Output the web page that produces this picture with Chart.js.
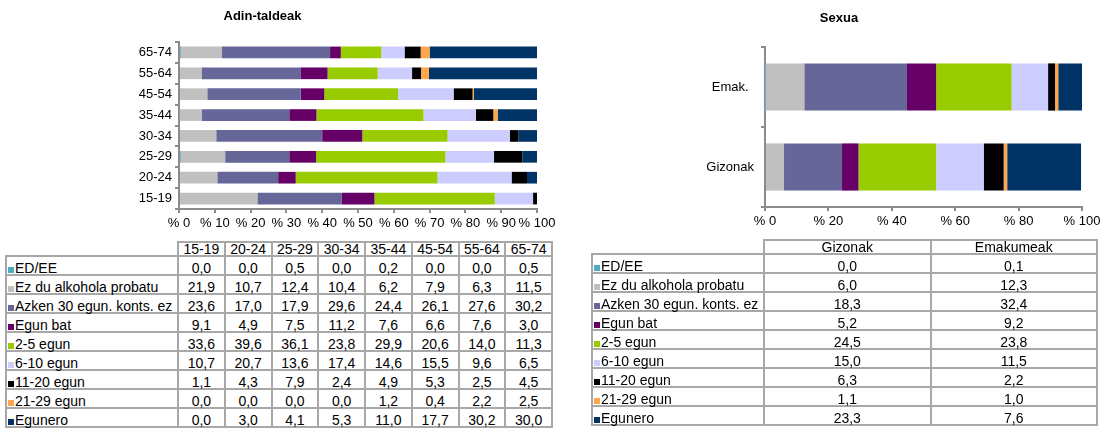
<!DOCTYPE html>
<html>
<head>
<meta charset="utf-8">
<script src="https://cdn.jsdelivr.net/npm/chart.js@4.4.0/dist/chart.umd.min.js"></script>
<style>
  body { margin: 0; background: #fff; width: 1110px; height: 430px; position: relative; overflow: hidden;
         font-family: "Liberation Sans", Arial, sans-serif; }
  canvas { position: absolute; }
  table { position: absolute; border-collapse: collapse; table-layout: fixed; font-size: 14px; color: #000; }
  td { border: 2px solid #a8a8a8; padding: 0; line-height: 12px; vertical-align: bottom; text-align: center;
       white-space: nowrap; overflow: visible; }
  td.lbl { text-align: left; }
  td.blank { border: none; }
  tr.head td { height: 10px; }
  tr.row td { height: 17px; }
  .key { display: inline-block; width: 6px; height: 6px; margin: 0 1px 0 1px; }
</style>
</head>
<body>
<canvas id="chartAdina" width="572" height="240" style="left:-12px;top:0"></canvas>
<canvas id="chartSexua" width="508" height="240" style="left:596px;top:0"></canvas>
<table id="taulaAdina" style="left:5px;top:241px"></table>
<table id="taulaSexua" style="left:591px;top:239px"></table>

<script>
// serieak
const series = ['ED/EE', 'Ez du alkohola probatu', 'Azken 30 egun. konts. ez', 'Egun bat', '2-5 egun',
                '6-10 egun', '11-20 egun', '21-29 egun', 'Egunero'];
const colors = ['#4bacc6', '#c0c0c0', '#666699', '#660066', '#99cc00', '#ccccff', '#000000', '#ffa64d', '#003366'];

// adin-taldeak
const ageGroups = ['15-19', '20-24', '25-29', '30-34', '35-44', '45-54', '55-64', '65-74'];
const edEe       = [0.0, 0.0, 0.5, 0.0, 0.2, 0.0, 0.0, 0.5];
const ezProbatu  = [21.9, 10.7, 12.4, 10.4, 6.2, 7.9, 6.3, 11.5];
const azken30    = [23.6, 17.0, 17.9, 29.6, 24.4, 26.1, 27.6, 30.2];
const egunBat    = [9.1, 4.9, 7.5, 11.2, 7.6, 6.6, 7.6, 3.0];
const egun2_5    = [33.6, 39.6, 36.1, 23.8, 29.9, 20.6, 14.0, 11.3];
const egun6_10   = [10.7, 20.7, 13.6, 17.4, 14.6, 15.5, 9.6, 6.5];
const egun11_20  = [1.1, 4.3, 7.9, 2.4, 4.9, 5.3, 2.5, 4.5];
const egun21_29  = [0.0, 0.0, 0.0, 0.0, 1.2, 0.4, 2.2, 2.5];
const egunero    = [0.0, 3.0, 4.1, 5.3, 11.0, 17.7, 30.2, 30.0];
const ageRows = [edEe, ezProbatu, azken30, egunBat, egun2_5, egun6_10, egun11_20, egun21_29, egunero];

// sexua
const sexLabels = ['Gizonak', 'Emakumeak'];
const sexAxisLabels = ['Gizonak', 'Emak.'];
const gizonak   = [0.0, 6.0, 18.3, 5.2, 24.5, 15.0, 6.3, 1.1, 23.3];
const emakumeak = [0.1, 12.3, 32.4, 9.2, 23.8, 11.5, 2.2, 1.0, 7.6];
const sexCols = [gizonak, emakumeak];

const fmt = v => v.toFixed(1).replace('.', ',');
const axisGray = '#8c8c8c';
const font13 = { family: '"Liberation Sans", Arial, sans-serif', size: 13 };

function makeChart(id, labels, datasets, opt) {
  new Chart(document.getElementById(id).getContext('2d'), {
    type: 'bar',
    data: { labels: labels, datasets: datasets },
    options: {
      indexAxis: 'y',
      responsive: false,
      animation: false,
      layout: { padding: opt.padding },
      plugins: {
        legend: { display: false },
        tooltip: { enabled: false },
        title: {
          display: true,
          text: opt.title,
          color: '#000',
          font: { family: font13.family, size: 13, weight: 'bold' },
          padding: opt.titlePadding
        }
      },
      scales: {
        x: {
          stacked: true,
          min: 0, max: 100,
          afterFit: s => { s.height = 25; s.paddingLeft = 0; s.paddingRight = 0; },
          ticks: { stepSize: opt.step, color: '#000', font: font13, padding: 3, maxRotation: 0,
                   autoSkip: false, callback: v => '% ' + v },
          grid: { drawOnChartArea: false, tickLength: 4, color: axisGray, lineWidth: 2 },
          border: { color: axisGray, width: 2 }
        },
        y: {
          stacked: true,
          reverse: true,
          afterFit: s => { s.width = opt.yWidth; },
          ticks: { color: '#000', font: font13, padding: opt.yPad, crossAlign: opt.cross },
          grid: { drawOnChartArea: false, tickLength: 4, color: axisGray, lineWidth: 2 },
          border: { color: axisGray, width: 2 }
        }
      }
    }
  });
}

// GRAFIKOA ADINA
makeChart('chartAdina', ageGroups,
  series.map((s, i) => ({
    label: s, data: ageRows[i], backgroundColor: colors[i],
    barPercentage: 0.56, categoryPercentage: 1
  })),
  { title: 'Adin-taldeak', titlePadding: { top: 9, bottom: 17.4 }, padding: { left: 0, right: 23, top: 0, bottom: 6 },
    yWidth: 191, yPad: 3, cross: 'near', step: 10 });

// GRAFIKOA SEXUA
makeChart('chartSexua', sexAxisLabels,
  series.map((s, i) => ({
    label: s, data: sexCols.map(c => c[i]), backgroundColor: colors[i],
    barPercentage: 0.59, categoryPercentage: 1
  })),
  { title: 'Sexua', titlePadding: { top: 10.5, bottom: 20.9 }, padding: { left: 0, right: 22, top: 0, bottom: 8 },
    yWidth: 169, yPad: 7, cross: 'center', step: 20 });

// TAULAK
function makeTable(id, heads, rowValues, labelW, colW) {
  const t = document.getElementById(id);
  let html = '<colgroup><col style="width:' + labelW + 'px">';
  heads.forEach(() => { html += '<col style="width:' + colW + 'px">'; });
  html += '</colgroup><tr class="head"><td class="blank"></td>';
  heads.forEach(h => { html += '<td>' + h + '</td>'; });
  html += '</tr>';
  series.forEach((s, i) => {
    html += '<tr class="row"><td class="lbl"><span class="key" style="background:' + colors[i] + '"></span>' + s + '</td>';
    rowValues(i).forEach(v => { html += '<td>' + fmt(v) + '</td>'; });
    html += '</tr>';
  });
  t.innerHTML = html;
}

makeTable('taulaAdina', ageGroups, i => ageRows[i], 172, 46.75);
makeTable('taulaSexua', sexLabels, i => sexCols.map(c => c[i]), 172, 166.5);
</script>
</body>
</html>
